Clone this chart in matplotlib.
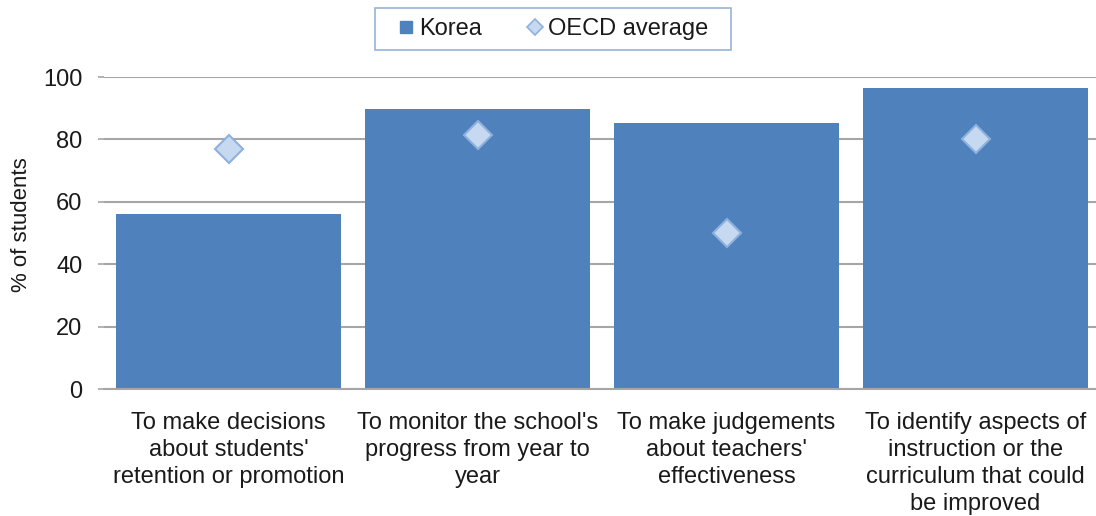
import matplotlib
matplotlib.use("Agg")
import matplotlib.pyplot as plt
from matplotlib.lines import Line2D

plt.rcParams['font.family'] = ['Liberation Sans', 'DejaVu Sans']

categories = [
    "To make decisions\nabout students'\nretention or promotion",
    "To monitor the school's\nprogress from year to\nyear",
    "To make judgements\nabout teachers'\neffectiveness",
    "To identify aspects of\ninstruction or the\ncurriculum that could\nbe improved",
]
korea = [56.0, 89.7, 85.2, 96.4]
oecd = [76.8, 81.3, 50.1, 80.2]
yticks = [0, 20, 40, 60, 80, 100]

BAR = '#4F81BD'
DFILL = '#C6D9F1'
DEDGE = '#8EB1DD'
GRID = '#A6A6A6'
TXT = '#1A1A1A'

W, H = 1096, 516
fig = plt.figure(figsize=(W / 100, H / 100), dpi=100)
left, right, top, bottom = 104, 1100, 77, 389
ax = fig.add_axes([left / W, 1 - bottom / H, (right - left) / W, (bottom - top) / H])

x = list(range(len(categories)))
ax.bar(x, korea, width=0.905, color=BAR, zorder=2)
ax.plot(x, oecd, linestyle='none', marker='D', markersize=14.5, markerfacecolor=DFILL,
        markeredgecolor=DEDGE, markeredgewidth=1.5, zorder=3)

ax.set_xlim(-0.5, len(categories) - 0.5)
ax.set_ylim(0, 100)
ax.set_yticks(yticks)
ax.yaxis.grid(True, color=GRID, linewidth=1.5, zorder=0)
ax.set_axisbelow(True)
for s in ['left', 'top', 'right']:
    ax.spines[s].set_visible(False)
ax.spines['bottom'].set_color(GRID)
ax.spines['bottom'].set_linewidth(1.5)

ax.set_xticks(x)
ax.set_xticklabels(categories, fontsize=17, color=TXT, linespacing=1.3)
ax.tick_params(axis='x', length=0, pad=16.5)
ax.tick_params(axis='y', length=4, width=1.2, color=GRID, labelsize=17, labelcolor=TXT, pad=11.5)

fig.text(22 / W, 1 - 225 / H, '% of students', rotation=90, ha='center', va='center',
         fontsize=16, color=TXT)

handles = [
    Line2D([], [], linestyle='none', marker='s', markersize=8, markerfacecolor=BAR, markeredgecolor=BAR),
    Line2D([], [], linestyle='none', marker='D', markersize=8, markerfacecolor=DFILL,
           markeredgecolor=DEDGE, markeredgewidth=1.2),
]
leg = fig.legend(handles, ['Korea', 'OECD average'], loc='center', bbox_to_anchor=(553 / W, 1 - 29 / H),
                 ncol=2, fontsize=17, frameon=True, fancybox=False, handlelength=0.7,
                 handletextpad=0.2, columnspacing=1.9, borderpad=0.4)
frame = leg.get_frame()
frame.set_boxstyle('square', pad=0.55)
frame.set_mutation_aspect(0.04)
frame.set_edgecolor('#7F9FD0')
frame.set_linewidth(1.2)
for t in leg.get_texts():
    t.set_color(TXT)

fig.savefig('out.png', dpi=100)
